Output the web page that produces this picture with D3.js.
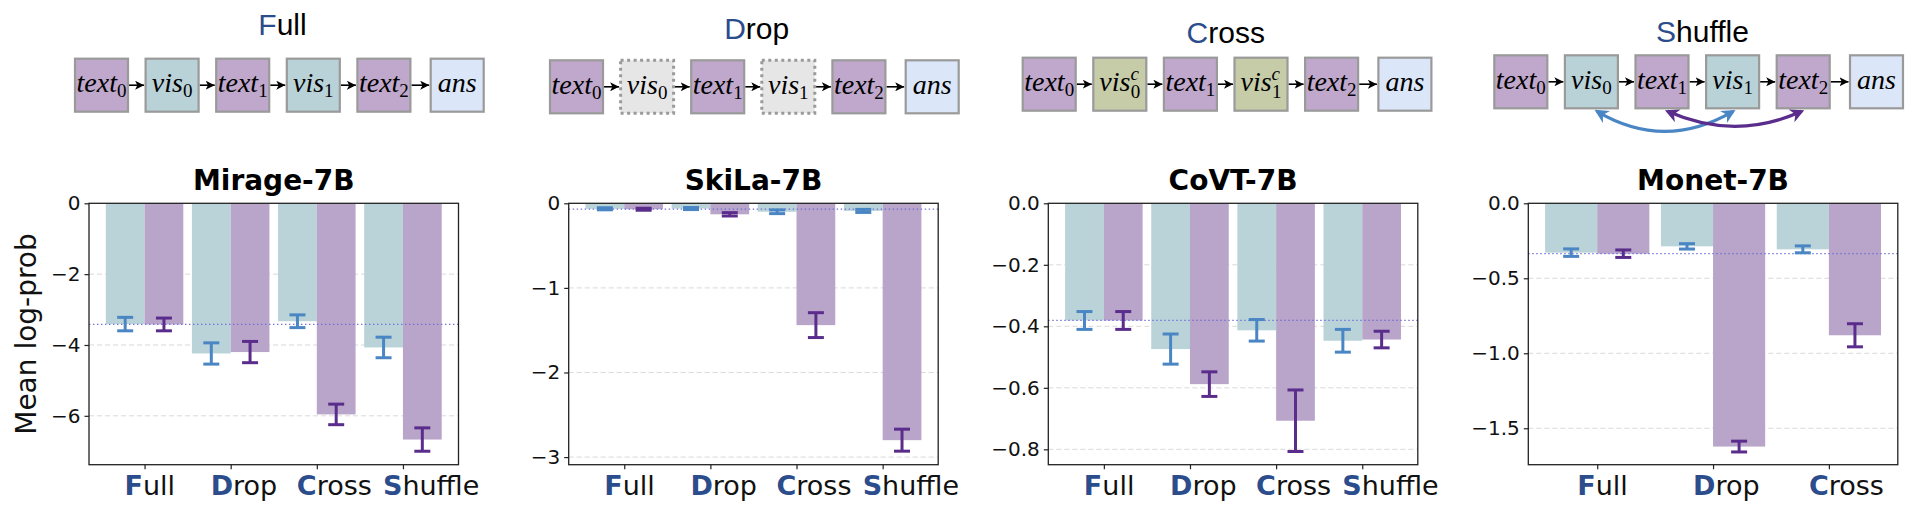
<!DOCTYPE html>
<html><head><meta charset="utf-8">
<script src="https://cdn.jsdelivr.net/npm/d3@7"></script>
<style>body{margin:0;background:#fff}svg{display:block}</style>
</head><body>
<svg id="c" width="1932" height="512"></svg>
<script>
// ---------------- data ----------------
const conditions = ["Full", "Drop", "Cross", "Shuffle"];
const models = ["Mirage-7B", "SkiLa-7B", "CoVT-7B", "Monet-7B"];

const mirageVis = [-3.41, -4.24, -3.33, -4.07];
const mirageVisErr = [0.19, 0.30, 0.18, 0.29];
const mirageText = [-3.42, -4.20, -5.96, -6.67];
const mirageTextErr = [0.18, 0.30, 0.29, 0.33];

const skilaVis = [-0.065, -0.062, -0.10, -0.09];
const skilaVisErr = [0.012, 0.012, 0.022, 0.018];
const skilaText = [-0.07, -0.13, -1.44, -2.80];
const skilaTextErr = [0.012, 0.02, 0.147, 0.13];

const covtVis = [-0.381, -0.474, -0.413, -0.447];
const covtVisErr = [0.029, 0.049, 0.035, 0.037];
const covtText = [-0.381, -0.588, -0.707, -0.443];
const covtTextErr = [0.029, 0.040, 0.100, 0.027];

const monetVis = [-0.329, -0.287, -0.307];
const monetVisErr = [0.025, 0.018, 0.023];
const monetText = [-0.336, -1.622, -0.880];
const monetTextErr = [0.025, 0.036, 0.077];

const yMins = [-7.38, -3.09, -0.85, -1.743];
const mirageTicks = [0, -2, -4, -6];
const skilaTicks = [0, -1, -2, -3];
const covtTicks = [0, -0.2, -0.4, -0.6, -0.8];
const monetTicks = [0, -0.5, -1.0, -1.5];
const tickFormats = [".0f", ".0f", ".1f", ".1f"];

// schematic rows
const schemeTitles = ["Full", "Drop", "Cross", "Shuffle"];
const schemeTokens = ["text0", "vis0", "text1", "vis1", "text2", "ans"];

// ---------------- style ----------------
const C = {
  teal: "#bad3d8", purple: "#b8a5c9",
  errBlue: "#4a86c4", errPurple: "#5a2d8c",
  ref: "#6f6fd6", blueLetter: "#2c4d8c",
  boxText: "#bfa8cb", boxVis: "#b9d2d8", boxAns: "#dbe7f8",
  boxDrop: "#e6e6e6", boxCross: "#c6cba8", boxStroke: "#9a9a9a"
};

const panels = [
  {vis: mirageVis, visErr: mirageVisErr, text: mirageText, textErr: mirageTextErr, ticks: mirageTicks},
  {vis: skilaVis, visErr: skilaVisErr, text: skilaText, textErr: skilaTextErr, ticks: skilaTicks},
  {vis: covtVis, visErr: covtVisErr, text: covtText, textErr: covtTextErr, ticks: covtTicks},
  {vis: monetVis, visErr: monetVisErr, text: monetText, textErr: monetTextErr, ticks: monetTicks}
];

const svg = d3.select("#c");
const axLeft = [89, 568.7, 1048.3, 1528.3];
const axW = 369.5, axTop = 203.3, axBot = 464.7;
const barW = 0.45;

panels.forEach((p, k) => {
  const n = p.vis.length;
  const span = (n - 1) + 2 * barW;
  const pad = 0.05 * span;
  const x = d3.scaleLinear().domain([-barW - pad, n - 1 + barW + pad]).range([axLeft[k], axLeft[k] + axW]);
  const y = d3.scaleLinear().domain([yMins[k], 0]).range([axBot, axTop]);
  const g = svg.append("g");

  // grid
  g.selectAll("line.grid").data(p.ticks.filter(t => t !== 0)).join("line")
    .attr("x1", x.range()[0]).attr("x2", x.range()[1])
    .attr("y1", d => y(d)).attr("y2", d => y(d))
    .attr("stroke", "#d9d9d9").attr("stroke-width", 1).attr("stroke-dasharray", "5,3");

  const idx = d3.range(n);
  // bars
  g.selectAll("rect.v").data(idx).join("rect")
    .attr("x", i => x(i - barW)).attr("width", i => x(i) - x(i - barW))
    .attr("y", y(0)).attr("height", i => y(p.vis[i]) - y(0))
    .attr("fill", C.teal);
  g.selectAll("rect.t").data(idx).join("rect")
    .attr("x", i => x(i)).attr("width", i => x(i + barW) - x(i))
    .attr("y", y(0)).attr("height", i => y(p.text[i]) - y(0))
    .attr("fill", C.purple);

  // reference line
  g.append("line").attr("x1", x.range()[0]).attr("x2", x.range()[1])
    .attr("y1", y(p.text[0])).attr("y2", y(p.text[0]))
    .attr("stroke", C.ref).attr("stroke-width", 1.2).attr("stroke-dasharray", "1.4,2.6");

  // error bars
  const capW = 8;
  function errs(means, errv, off, col) {
    const eg = g.append("g").attr("stroke", col).attr("stroke-width", 3).attr("fill", "none");
    idx.forEach(i => {
      const cx = x(i + off);
      const y1 = y(means[i] + errv[i]), y2 = y(means[i] - errv[i]);
      eg.append("line").attr("x1", cx).attr("x2", cx).attr("y1", y1).attr("y2", y2);
      eg.append("line").attr("x1", cx - capW).attr("x2", cx + capW).attr("y1", y1).attr("y2", y1);
      eg.append("line").attr("x1", cx - capW).attr("x2", cx + capW).attr("y1", y2).attr("y2", y2);
    });
  }
  errs(p.vis, p.visErr, -barW / 2, C.errBlue);
  errs(p.text, p.textErr, barW / 2, C.errPurple);

  // frame
  g.append("rect").attr("x", x.range()[0]).attr("y", axTop)
    .attr("width", axW).attr("height", axBot - axTop)
    .attr("fill", "none").attr("stroke", "#222").attr("stroke-width", 1.3);

  // y axis
  const fmt = d3.format(tickFormats[k]);
  const ya = g.append("g").attr("transform", `translate(${x.range()[0]},0)`)
    .call(d3.axisLeft(y).tickValues(p.ticks).tickSize(4.5).tickPadding(4)
      .tickFormat(d => fmt(d).replace("-", "\u2212")));
  ya.select(".domain").remove();
  ya.selectAll("line").attr("stroke", "#222").attr("stroke-width", 1.2);
  ya.selectAll("text").attr("font-family", "DejaVu Sans").attr("font-size", 20).attr("fill", "#111");

  // x axis ticks
  const xa = g.append("g").attr("transform", `translate(0,${axBot})`)
    .call(d3.axisBottom(x).tickValues(idx).tickSize(4.5).tickFormat(""));
  xa.select(".domain").remove();
  xa.selectAll("line").attr("stroke", "#222").attr("stroke-width", 1.2);

  // x labels: bold blue initial + regular rest
  idx.forEach(i => {
    const t = g.append("text").attr("x", x(i) - 20).attr("y", 495)
      .attr("font-family", "DejaVu Sans").attr("font-size", 27).attr("fill", "#111");
    t.append("tspan").attr("font-weight", "bold").attr("fill", C.blueLetter).text(conditions[i][0]);
    t.append("tspan").text(conditions[i].slice(1));
  });

  // title
  g.append("text").attr("x", (x.range()[0] + x.range()[1]) / 2).attr("y", 190)
    .attr("text-anchor", "middle").attr("font-family", "DejaVu Sans").attr("font-weight", "bold")
    .attr("font-size", 28).attr("fill", "#000").text(models[k]);
});

// y label
svg.append("text").attr("transform", `translate(36,334) rotate(-90)`)
  .attr("text-anchor", "middle").attr("font-family", "DejaVu Sans").attr("font-size", 28)
  .attr("fill", "#111").text("Mean log-prob");

// ---------------- schematics ----------------
const defs = svg.append("defs");
defs.append("marker").attr("id", "ah").attr("viewBox", "0 0 10 10").attr("refX", 10).attr("refY", 5)
  .attr("markerWidth", 9).attr("markerHeight", 9).attr("markerUnits", "userSpaceOnUse").attr("orient", "auto")
  .append("path").attr("d", "M0,0 L10,5 L0,10 L2.5,5 Z").attr("fill", "#000");
[["hb", C.errBlue], ["hp", C.errPurple]].forEach(([id, col]) => {
  defs.append("marker").attr("id", id).attr("viewBox", "0 0 10 10").attr("refX", 8).attr("refY", 5)
    .attr("markerWidth", 14).attr("markerHeight", 14).attr("markerUnits", "userSpaceOnUse").attr("orient", "auto-start-reverse")
    .append("path").attr("d", "M0,0 L10,5 L0,10 L3,5 Z").attr("fill", col);
});

const schemeStart = [74, 549, 1021.7, 1493.3];
const schemeTop = [57.7, 59.3, 56.7, 54.3];
const titleX = [282.5, 756.7, 1225.8, 1702.5];
const titleY = [35, 39, 42.5, 41.5];
const boxSize = 55, boxStep = 70.6, ansExtra = 2.7;

schemeTitles.forEach((name, k) => {
  const g = svg.append("g");
  const t = g.append("text").attr("x", titleX[k]).attr("y", titleY[k]).attr("text-anchor", "middle")
    .attr("font-family", "Liberation Sans, Arial").attr("font-size", 30).attr("fill", "#000");
  t.append("tspan").attr("fill", C.blueLetter).text(name[0]);
  t.append("tspan").text(name.slice(1));

  const xs = schemeTokens.map((tok, i) => schemeStart[k] + i * boxStep + (i === 5 ? ansExtra : 0));
  const top = schemeTop[k];
  // connecting arrows
  for (let i = 0; i < 5; i++) {
    g.append("line").attr("x1", xs[i] + boxSize).attr("x2", xs[i + 1] - 0.5)
      .attr("y1", top + boxSize / 2).attr("y2", top + boxSize / 2)
      .attr("stroke", "#000").attr("stroke-width", 1.6).attr("marker-end", "url(#ah)");
  }
  schemeTokens.forEach((tok, i) => {
    const isVis = tok.startsWith("vis"), isAns = tok === "ans";
    let fill = isAns ? C.boxAns : isVis ? C.boxVis : C.boxText;
    let dash = null;
    if (isVis && name === "Drop") { fill = C.boxDrop; dash = "3,3.5"; }
    if (isVis && name === "Cross") fill = C.boxCross;
    g.append("rect").attr("x", xs[i] + 1).attr("y", top + 1).attr("width", boxSize - 2).attr("height", boxSize - 2)
      .attr("fill", fill).attr("stroke", C.boxStroke).attr("stroke-width", dash ? 3 : 2.2)
      .attr("stroke-dasharray", dash);
    const cx = xs[i] + boxSize / 2, cy = top + boxSize / 2 + 7;
    const tx = g.append("text").attr("x", cx).attr("y", cy).attr("text-anchor", "middle")
      .attr("font-family", "Liberation Serif, Times New Roman, serif").attr("font-size", 28).attr("fill", "#000");
    if (isAns) {
      tx.append("tspan").attr("font-style", "italic").text("ans");
    } else {
      const base = tok.slice(0, -1), sub = tok.slice(-1);
      tx.append("tspan").attr("font-style", "italic").text(base);
      if (isVis && name === "Cross") {
        tx.append("tspan").attr("font-style", "italic").attr("font-size", 19).attr("dy", -11).text("c");
        tx.append("tspan").attr("font-size", 19).attr("dx", -8).attr("dy", 18).text(sub);
      } else {
        tx.append("tspan").attr("font-size", 19).attr("dy", 5).text(sub);
      }
    }
  });

  if (name === "Shuffle") {
    const bot = top + boxSize;
    g.append("path").attr("d", `M${xs[1] + 33},${bot + 2} Q${(xs[1] + xs[3]) / 2 + 30},${bot + 42} ${xs[3] + 28},${bot + 2}`)
      .attr("fill", "none").attr("stroke", C.errBlue).attr("stroke-width", 3.2)
      .attr("marker-start", "url(#hb)").attr("marker-end", "url(#hb)");
    g.append("path").attr("d", `M${xs[2] + 33},${bot + 2} Q${(xs[2] + xs[4]) / 2 + 30},${bot + 32} ${xs[4] + 26},${bot + 2}`)
      .attr("fill", "none").attr("stroke", C.errPurple).attr("stroke-width", 3.2)
      .attr("marker-start", "url(#hp)").attr("marker-end", "url(#hp)");
  }
});
</script>
</body></html>
